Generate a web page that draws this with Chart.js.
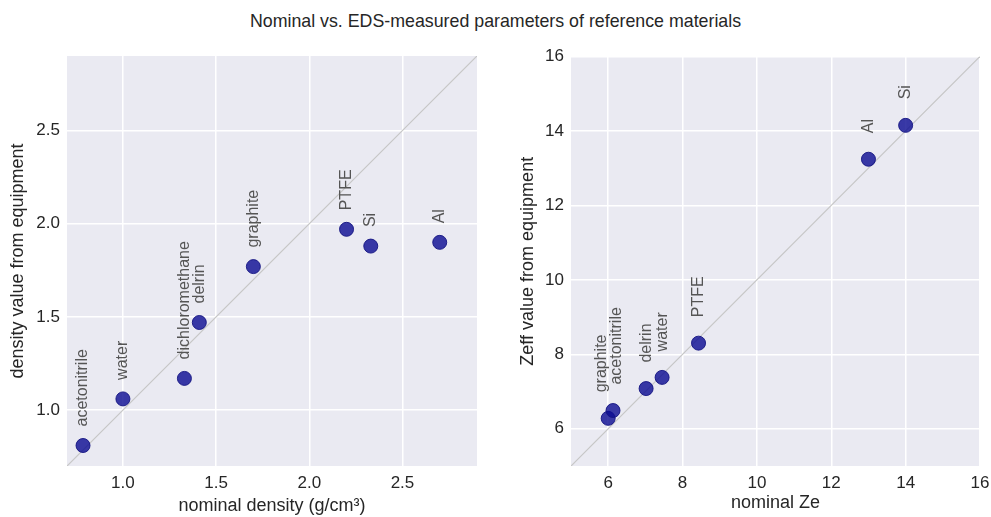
<!DOCTYPE html>
<html>
<head>
<meta charset="utf-8">
<script src="https://cdn.jsdelivr.net/npm/chart.js@4.4.1/dist/chart.umd.min.js"></script>
<style>
  html, body { margin: 0; padding: 0; background: #fff; }
  #wrap { position: relative; width: 991px; height: 517px; overflow: hidden; font-family: "Liberation Sans", Arial, sans-serif; }
  #title { position: absolute; left: 0; top: 10.5px; width: 991px; line-height: 20px; text-align: center; font-size: 17.8px; color: #262626; }
  .box { position: absolute; top: 0; height: 517px; }
  #boxL { left: 0; width: 495px; }
  #boxR { left: 495px; width: 496px; }
</style>
</head>
<body>
<div id="wrap">
  <div id="title">Nominal vs. EDS-measured parameters of reference materials</div>
  <div class="box" id="boxL"><canvas id="densChart"></canvas></div>
  <div class="box" id="boxR"><canvas id="zeffChart"></canvas></div>
</div>
<script>
// left panel: density
const densMaterials = ["acetonitrile", "water", "dichloromethane", "delrin", "graphite", "PTFE", "Si", "Al"];
const densNominal = [0.786, 1.0, 1.33, 1.41, 1.70, 2.20, 2.33, 2.70];
const densMeasured = [0.81, 1.06, 1.17, 1.47, 1.77, 1.97, 1.88, 1.90];
const densLimits = [0.7, 2.9];
const densTicks = [1.0, 1.5, 2.0, 2.5];

// right panel: effective Z
const zeMaterials = ["graphite", "acetonitrile", "delrin", "water", "PTFE", "Al", "Si"];
const zeNominal = [6.0, 6.13, 7.02, 7.45, 8.43, 13.0, 14.0];
const zeMeasured = [6.28, 6.49, 7.08, 7.38, 8.30, 13.24, 14.15];
const zeLimits = [5, 16];
const zeTicks = [6, 8, 10, 12, 14, 16];

const FONT = "'Liberation Sans', Arial, sans-serif";
const INK = "#262626";

// grey panel + rotated point labels
const panelPlugin = {
  id: "panel",
  beforeDraw(chart) {
    const { ctx, chartArea: a } = chart;
    ctx.save();
    ctx.fillStyle = "#EAEAF2";
    ctx.fillRect(a.left, a.top, a.right - a.left, a.bottom - a.top);
    ctx.restore();
  },
  afterDatasetsDraw(chart, args, opts) {
    const { ctx } = chart;
    const xs = chart.scales.x, ys = chart.scales.y;
    const pts = chart.data.datasets[0].data;
    ctx.save();
    ctx.font = "16px " + FONT;
    ctx.fillStyle = "#555555";
    ctx.textAlign = "left";
    ctx.textBaseline = "middle";
    opts.labels.forEach((name, i) => {
      const px = xs.getPixelForValue(pts[i].x) + (opts.nudge[name] || 0);
      const py = ys.getPixelForValue(pts[i].y) - opts.offset;
      ctx.save();
      ctx.translate(px, py);
      ctx.rotate(-Math.PI / 2);
      ctx.fillText(name, 0, 0);
      ctx.restore();
    });
    ctx.restore();
  }
};

function axis(limits, ticks, fmt, title, size, titlePad) {
  return {
    type: "linear",
    min: limits[0],
    max: limits[1],
    afterBuildTicks: s => { s.ticks = ticks.map(v => ({ value: v })); },
    afterFit: s => {
      // fixed axis box, no extra room for edge labels (layout padding handles it)
      if (s.isHorizontal()) { s.height = size; s.paddingLeft = 0; s.paddingRight = 0; }
      else { s.width = size; s.paddingTop = 0; s.paddingBottom = 0; }
    },
    grid: { color: "#ffffff", lineWidth: 1.5, drawTicks: false },
    border: { display: false },
    ticks: { color: INK, font: { size: 17, family: FONT }, padding: 7, callback: fmt },
    title: { display: true, text: title, color: INK, font: { size: 18, family: FONT }, padding: titlePad }
  };
}

function makeChart(id, nx, ny, names, limits, ticks, fmt, xTitle, yTitle, yWidth, pad, yTitlePad, xTitlePad, offset, nudge) {
  return new Chart(document.getElementById(id), {
    data: {
      datasets: [
        {
          type: "scatter",
          data: nx.map((v, i) => ({ x: v, y: ny[i] })),
          pointRadius: 7,
          pointHoverRadius: 7,
          backgroundColor: "rgba(10,10,145,0.8)",
          borderColor: "rgba(20,20,130,0.9)",
          borderWidth: 1,
          order: 1
        },
        {
          type: "line",
          data: limits.map(v => ({ x: v, y: v })),
          borderColor: "#c6c6c6",
          borderWidth: 1.2,
          pointRadius: 0,
          fill: false,
          order: 2
        }
      ]
    },
    options: {
      responsive: true,
      maintainAspectRatio: false,
      animation: false,
      events: [],
      layout: { padding: pad },
      plugins: {
        legend: { display: false },
        tooltip: { enabled: false },
        panel: { labels: names, offset, nudge }
      },
      scales: {
        x: axis(limits, ticks, fmt, xTitle, 51, xTitlePad),
        y: axis(limits, ticks, fmt, yTitle, yWidth, yTitlePad)
      }
    },
    plugins: [panelPlugin]
  });
}

makeChart("densChart", densNominal, densMeasured, densMaterials, densLimits, densTicks,
  v => Number(v).toFixed(1), "nominal density (g/cm³)", "density value from equipment",
  67, { top: 56, right: 18, bottom: 0, left: 0 }, { top: 7, bottom: 0 }, { top: 0, bottom: 0 }, 19, {});

makeChart("zeffChart", zeNominal, zeMeasured, zeMaterials, zeLimits, zeTicks,
  v => String(v), "nominal Ze", "Zeff value from equipment",
  76, { top: 56.5, right: 11, bottom: 0, left: 0 }, { top: 22, bottom: 0 }, { top: 0, bottom: 3 }, 26,
  { graphite: -7, acetonitrile: 3.5 });
</script>
</body>
</html>
